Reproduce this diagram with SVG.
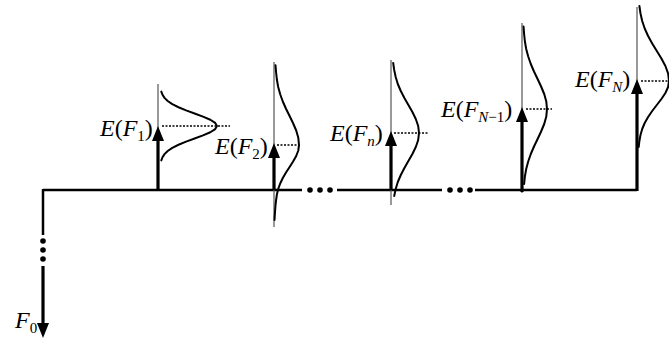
<svg xmlns="http://www.w3.org/2000/svg" width="669" height="345" viewBox="0 0 669 345">
<defs>
<marker id="ah" markerUnits="userSpaceOnUse" markerWidth="16" markerHeight="12" refX="3" refY="6" orient="auto" viewBox="0 0 16 12">
<path d="M0,0 L15,6 L0,12 z" fill="#000"/>
</marker>
<style>
.tl{stroke:#000;stroke-width:2.5;fill:none}
.arr{stroke:#000;stroke-width:3.2;fill:none;marker-end:url(#ah)}
.ax{stroke:#555;stroke-width:1.2;fill:none}
.cv{stroke:#000;stroke-width:2;fill:none;stroke-linejoin:round;stroke-linecap:round}
.dt{stroke:#000;stroke-width:1.5;stroke-dasharray:2 1.5;fill:none}
.dot{fill:#000}
text{font-family:"Liberation Serif","Times New Roman",serif;font-size:24px;fill:#000}
.i{font-style:italic}
.sub{font-size:15px}
</style>
</defs>
<g id="connectors">
<path class="tl" d="M43,190 H302 M337,190 H442 M475,190 H637"/>
<circle class="dot" cx="310" cy="190" r="2.8"/>
<circle class="dot" cx="320" cy="190" r="2.8"/>
<circle class="dot" cx="330" cy="190" r="2.8"/>
<circle class="dot" cx="450" cy="190" r="2.8"/>
<circle class="dot" cx="460" cy="190" r="2.8"/>
<circle class="dot" cx="470" cy="190" r="2.8"/>
<path class="tl" d="M43,189 V235"/>
<circle class="dot" cx="43" cy="241" r="2.8"/>
<circle class="dot" cx="43" cy="250" r="2.8"/>
<circle class="dot" cx="43" cy="259" r="2.8"/>
<path class="arr" d="M43,266 V326"/>
</g>
<g id="F0">
<text x="15" y="328"><tspan class="i">F</tspan><tspan class="sub" dy="5">0</tspan></text>
</g>
<g id="node1">
<path class="ax" d="M158,84 V190"/>
<polyline class="cv" points="161.3,91.6 162.5,94.75 164.5,97.9 167.7,101 172.3,104.1 178.5,107.25 186.1,110.4 194.6,113.5 203,116.6 210.3,119.75 215.2,122.9 217,126 215.2,129.1 210.3,132.25 203,135.4 194.6,138.5 186.1,141.6 178.5,144.75 172.3,147.9 167.7,151 164.5,154.1 162.5,157.25 161.3,160.4"/>
<path class="dt" d="M162,126 H230"/>
<path class="arr" d="M158,190 V138"/>
<text x="100" y="136"><tspan class="i">E</tspan>(<tspan class="i">F</tspan><tspan class="sub" dy="5">1</tspan><tspan dy="-5">)</tspan></text>
</g>
<g id="node2">
<path class="ax" d="M274,62 V227"/>
<polyline class="cv" points="275.5,65.25 276.1,72.5 276.9,79.75 278.2,87 280.2,94.25 282.8,101.5 286,108.75 289.6,116 293.1,123.25 296.2,130.5 298.3,137.75 299,145 298.3,150.5 296.2,156 293.1,161.5 289.6,167 286,172.5 282.8,178 280.2,183.5 278.2,189 276.9,194.5 276.1,200 275.5,205.5 275,212 274.5,220"/>
<path class="dt" d="M277,145 H300"/>
<path class="arr" d="M274,190 V155"/>
<text x="215" y="154"><tspan class="i">E</tspan>(<tspan class="i">F</tspan><tspan class="sub" dy="5">2</tspan><tspan dy="-5">)</tspan></text>
</g>
<g id="noden">
<path class="ax" d="M391,60 V205"/>
<polyline class="cv" points="393.2,63 394.2,70 395.7,77 397.8,84 400.8,91 404.4,98 408.4,105 412.4,112 415.8,119 418.2,126 419,133 418.2,140 415.8,147 412.4,154 408.4,161 404.4,168 400.8,175 397.8,182 395.7,189 394.2,196"/>
<path class="dt" d="M394,133 H428"/>
<path class="arr" d="M391,190 V143"/>
<text x="330" y="141"><tspan class="i">E</tspan>(<tspan class="i">F</tspan><tspan class="sub i" dy="5">n</tspan><tspan dy="-5">)</tspan></text>
</g>
<g id="nodeN1">
<path class="ax" d="M522,23 V193"/>
<polyline class="cv" points="523.55,26.5 524.1,34 524.9,41.5 526.2,49 528.2,56.5 530.8,64 534,71.5 537.6,79 541.1,86.5 544.2,94 546.3,101.5 547,109 546.3,116.5 544.2,124 541.1,131.5 537.6,139 534,146.5 530.8,154 528.2,161.5 526.2,169 524.9,176.5 524.1,184"/>
<path class="dt" d="M526,109 H552"/>
<path class="arr" d="M522,192 V119"/>
<text x="441" y="117"><tspan class="i">E</tspan>(<tspan class="i">F</tspan><tspan class="sub" dy="5"><tspan class="i">N</tspan>−1</tspan><tspan dy="-5">)</tspan></text>
</g>
<g id="nodeN">
<path class="ax" d="M637,7 V190"/>
<polyline class="cv" points="639.4,6 640.5,13.5 642.2,21 644.7,28.5 648.1,36 652.2,43.5 656.8,51 661.4,58.5 665.4,66 668.1,73.5 669,81 668.1,87 665.4,93 661.4,99 656.8,105 652.2,111 648.1,117 644.7,123 642.2,129 640.5,135 639.4,141 638.7,147"/>
<path class="dt" d="M641,81 H669"/>
<path class="arr" d="M637,191 V91"/>
<text x="575" y="87"><tspan class="i">E</tspan>(<tspan class="i">F</tspan><tspan class="sub i" dy="5">N</tspan><tspan dy="-5">)</tspan></text>
</g>
</svg>
